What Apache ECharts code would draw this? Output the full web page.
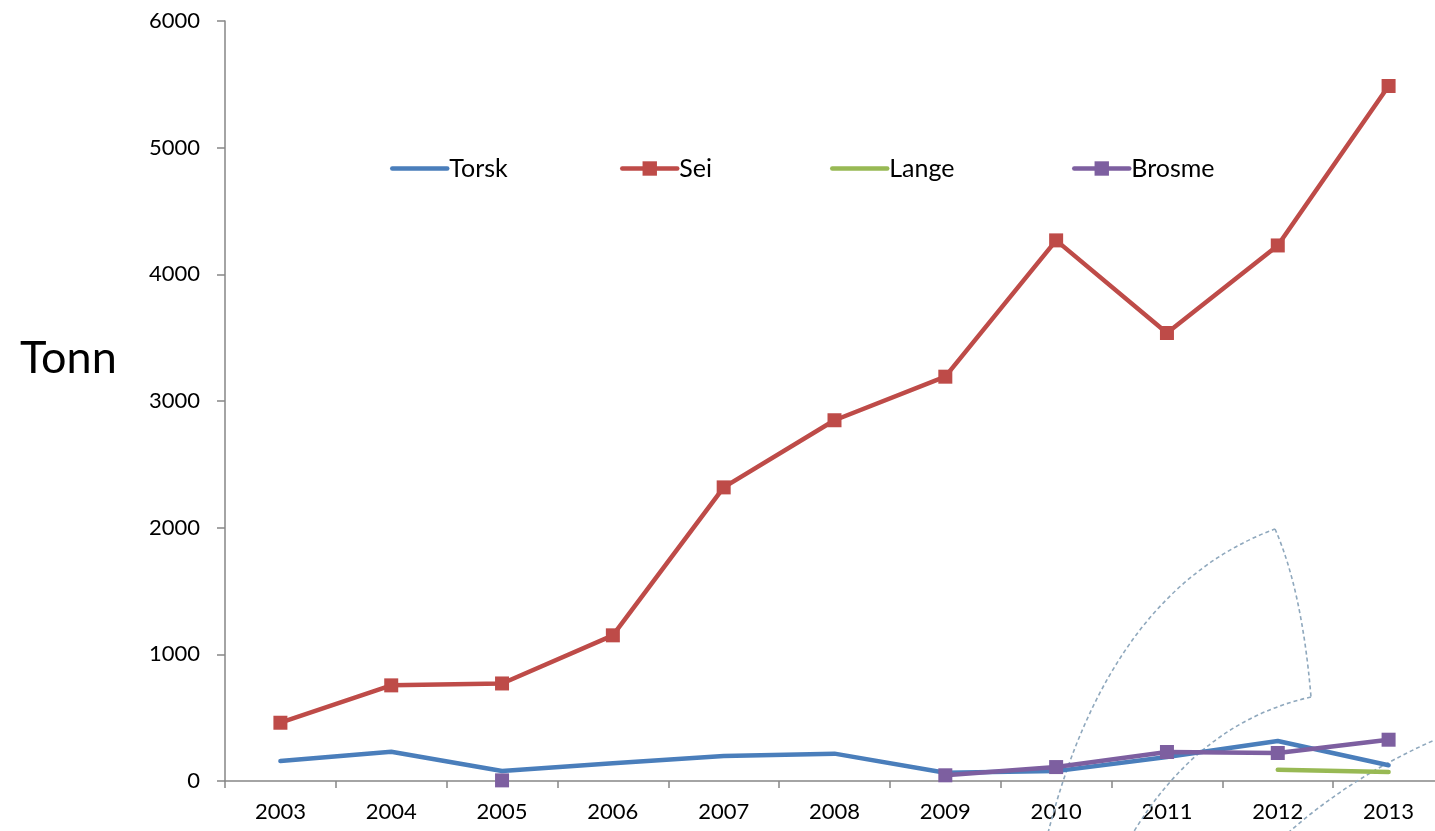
<!DOCTYPE html>
<html>
<head>
<meta charset="utf-8">
<script src="https://cdn.jsdelivr.net/npm/echarts@6/dist/echarts.min.js"></script>
<style>
html,body{margin:0;padding:0;background:#fff;}
#chart{width:1435px;height:831px;}
</style>
</head>
<body>
<div id="chart"></div>
<script>
const years = ['2003','2004','2005','2006','2007','2008','2009','2010','2011','2012','2013'];
const torsk  = [158, 231, 79, 140, 197, 216, 65, 78, 189, 316, 124];
const sei    = [460, 755, 770, 1150, 2318, 2848, 3192, 4268, 3537, 4228, 5487];
const lange  = [null, null, null, null, null, null, null, null, null, 89, 71];
const brosme = [null, null, 5, null, null, null, 45, 110, 229, 221, 326];
const yTicks = [0, 1000, 2000, 3000, 4000, 5000, 6000];
const seriesNames = ['Torsk', 'Sei', 'Lange', 'Brosme'];

const FONT = 'Lato, "Noto Sans", sans-serif';
const C_TORSK = '#4A7EBB', C_SEI = '#BE4B48', C_LANGE = '#98B954', C_BROSME = '#7D5FA0';
const DASH = '#8FA8BD';

const chart = echarts.init(document.getElementById('chart'), null, {renderer: 'canvas'});

function lineSeries(name, data, color, withMarker, z) {
  return {
    name: name,
    type: 'line',
    data: data,
    z: z,
    connectNulls: false,
    symbol: withMarker ? 'rect' : 'none',
    symbolSize: 14,
    showSymbol: withMarker,
    lineStyle: {color: color, width: 4.5, cap: 'round', join: 'round'},
    itemStyle: {color: color},
    emphasis: {disabled: true},
    animation: false
  };
}

function legendFor(name, left, withMarker) {
  return {
    left: left,
    top: 156,
    padding: 0,
    itemWidth: 55,
    itemHeight: 18,
    itemGap: 0,
    selectedMode: false,
    lineStyle: {width: 4.5},
    textStyle: {fontFamily: FONT, fontSize: 25, color: '#000', padding: [0, 0, 0, -3]},
    data: [withMarker ? {name: name} : {name: name, itemStyle: {opacity: 0}}]
  };
}

const dashStyle = {stroke: DASH, lineWidth: 1.6, lineDash: [4, 3], fill: null};

chart.setOption({
  backgroundColor: '#ffffff',
  animation: false,
  textStyle: {fontFamily: FONT},
  title: {
    text: 'Tonn',
    left: 20,
    top: 336,
    padding: 0,
    textStyle: {fontFamily: FONT, fontSize: 45, fontWeight: 'normal', color: '#000', lineHeight: 45}
  },
  grid: {left: 225, top: 21, bottom: 50, width: 1219, containLabel: false, outerBoundsMode: 'none'},
  legend: [
    legendFor(seriesNames[0], 390, false),
    legendFor(seriesNames[1], 620, true),
    legendFor(seriesNames[2], 830, false),
    legendFor(seriesNames[3], 1072, true)
  ],
  xAxis: {
    type: 'category',
    data: years,
    boundaryGap: true,
    axisLine: {lineStyle: {color: '#868686', width: 1.5}},
    axisTick: {show: true, alignWithLabel: false, length: 7, lineStyle: {color: '#868686', width: 1.5}},
    axisLabel: {fontFamily: FONT, fontSize: 22, color: '#000', margin: 20, interval: 0},
    splitLine: {show: false}
  },
  yAxis: {
    type: 'value',
    min: yTicks[0],
    max: yTicks[yTicks.length - 1],
    interval: 1000,
    axisLine: {show: true, lineStyle: {color: '#868686', width: 1.5}},
    axisTick: {show: true, length: 8, lineStyle: {color: '#868686', width: 1.5}},
    axisLabel: {fontFamily: FONT, fontSize: 22, color: '#000', margin: 25, formatter: function (v) { return String(v); }},
    splitLine: {show: false}
  },
  series: [
    lineSeries(seriesNames[0], torsk, C_TORSK, false, 2),
    lineSeries(seriesNames[1], sei, C_SEI, true, 3),
    lineSeries(seriesNames[2], lange, C_LANGE, false, 4),
    lineSeries(seriesNames[3], brosme, C_BROSME, true, 5)
  ],
  graphic: [
    {type: 'bezierCurve', silent: true, z: 1, shape: {x1: 1048, y1: 833, cpx1: 1110, cpy1: 590, x2: 1275, y2: 529}, style: dashStyle},
    {type: 'bezierCurve', silent: true, z: 1, shape: {x1: 1275, y1: 529, cpx1: 1302, cpy1: 590, x2: 1311, y2: 697}, style: dashStyle},
    {type: 'bezierCurve', silent: true, z: 1, shape: {x1: 1311, y1: 697, cpx1: 1200, cpy1: 722, x2: 1133, y2: 833}, style: dashStyle},
    {type: 'bezierCurve', silent: true, z: 1, shape: {x1: 1288, y1: 833, cpx1: 1352, cpy1: 776, x2: 1437, y2: 739}, style: dashStyle}
  ]
});
</script>
</body>
</html>
